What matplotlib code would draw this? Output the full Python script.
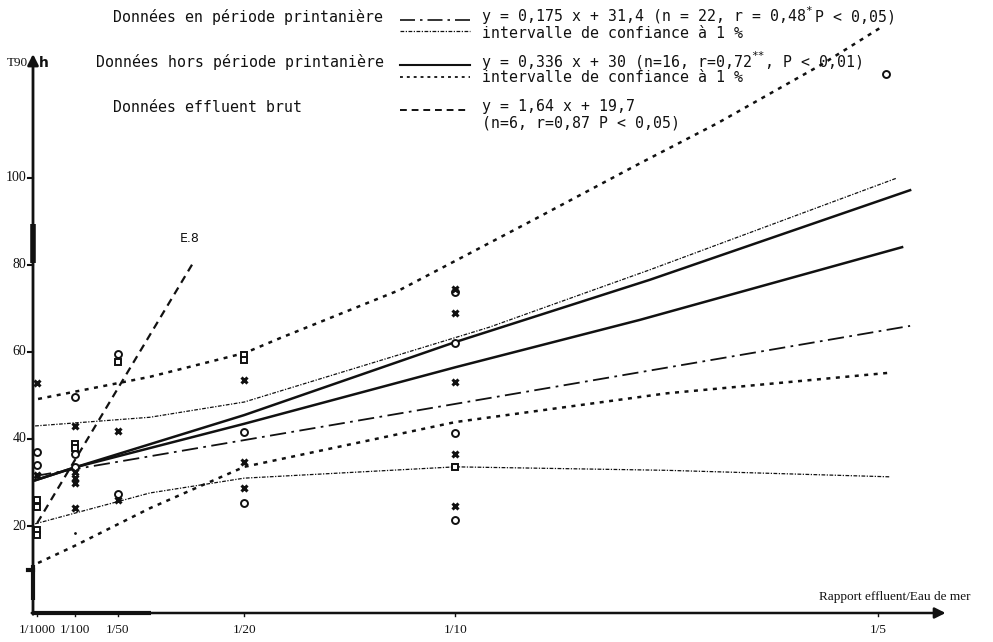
import matplotlib
matplotlib.use("Agg")
import matplotlib.pyplot as plt

# ratio effluent / sea water, in 1/1000 units
tick_pos = [1, 10, 20, 50, 100, 200]
tick_lab = ["1/1000", "1/100", "1/50", "1/20", "1/10", "1/5"]
ytick_pos = [20, 40, 60, 80, 100]

# observed T90 (h)
circ_x = [1, 1, 10, 10, 10, 20, 20, 50, 50, 100, 100, 100, 100, 202]
circ_y = [37, 34, 49.7, 36.6, 33.6, 59.5, 27.4, 41.6, 25.3, 73.8, 62, 41.4, 21.4, 124]
cross_x = [1, 1, 10, 10, 10, 10, 10, 20, 20, 50, 50, 50, 100, 100, 100, 100, 100]
cross_y = [52.9, 31.7, 43, 32.4, 31, 30, 24.1, 41.8, 26, 53.6, 34.7, 28.7, 74.5, 69, 53.1, 36.6, 24.6]
sq_x = [1, 1, 1, 1, 10, 10, 20, 50, 50, 100]
sq_y = [26, 24.4, 19, 18, 38.9, 37.9, 57.7, 59.3, 58.2, 33.6]

# spring regression (dash-dot) and its 1 % interval
spring_x = [0.5, 207.6]
spring_y = [31.5, 66]
spring_hi_x = [0.5, 27.7, 50, 108, 146, 204.5]
spring_hi_y = [43, 45, 48.5, 65.7, 78.9, 100]
spring_lo_x = [0.5, 27.7, 50, 100, 150, 203]
spring_lo_y = [20.5, 27.6, 31, 33.6, 32.8, 31.3]

# out of spring regression (solid) and second solid line
hors_x = [0.5, 10, 50, 100, 146, 207.6]
hors_y = [30.5, 33.5, 45.5, 62.3, 76.6, 97.2]
solid2_x = [0.5, 10, 50, 100, 143.7, 205.7]
solid2_y = [30.5, 33.5, 43.5, 56.5, 67.4, 84.1]

# out of spring 1 % interval (dotted)
hors_hi_x = [1.2, 27.7, 50.2, 58.5, 86.9, 118.3, 143.7, 162, 186.5, 200.5]
hors_hi_y = [49.2, 54.3, 59.8, 63.2, 74.3, 90.3, 103.4, 112.6, 126, 134.5]
hors_lo_x = [1.2, 10, 27.7, 50, 100, 150, 202.4]
hors_lo_y = [11.5, 15.5, 24.1, 33.6, 43.9, 50.5, 55.2]

# raw effluent E.8 (dashed)
brut_x = [1, 37.9]
brut_y = [20.7, 80.5]

W, H = 993, 642
fig = plt.figure(figsize=(W / 100, H / 100), dpi=100)
ax = fig.add_axes([0, 0, 1, 1])
ax.set_xlim(-33 / 4.225, 960 / 4.225)
ax.set_ylim(-29 / 4.35, 613 / 4.35)
ax.axis("off")

ink = "#111111"
mono = "DejaVu Sans Mono"
serif = "Liberation Serif"

ax.plot(spring_x, spring_y, color=ink, lw=1.3, dashes=(9, 3, 1.5, 3))
ax.plot(spring_hi_x, spring_hi_y, color=ink, lw=0.9, dashes=(3, 1.2, 1, 1.2))
ax.plot(spring_lo_x, spring_lo_y, color=ink, lw=0.9, dashes=(3, 1.2, 1, 1.2))
ax.plot(hors_x, hors_y, color=ink, lw=1.8)
ax.plot(solid2_x, solid2_y, color=ink, lw=1.8)
ax.plot(hors_hi_x, hors_hi_y, color=ink, lw=1.8, dashes=(1.6, 2.2))
ax.plot(hors_lo_x, hors_lo_y, color=ink, lw=1.8, dashes=(1.6, 2.2))
ax.plot(brut_x, brut_y, color=ink, lw=1.6, dashes=(3.5, 2.5))
ax.text(37.2, 84.5, "E.8", fontsize=9, family="DejaVu Sans", ha="center", va="bottom", color=ink)

ax.plot(circ_x, circ_y, "o", ms=5, mfc="white", mec=ink, mew=1.4, ls="none")
ax.plot(cross_x, cross_y, "x", ms=5, mec=ink, mew=2.2, ls="none")
ax.plot(sq_x, sq_y, "s", ms=4.5, mfc="white", mec=ink, mew=1.4, ls="none")
ax.plot([10], [18.5], ".", ms=2, color=ink)

# axes with arrows
ax.annotate("", xy=(0, 128.5), xytext=(0, -0.3),
            arrowprops=dict(arrowstyle="-|>", lw=2, color=ink, mutation_scale=16, shrinkA=0, shrinkB=0))
ax.annotate("", xy=(216, 0), xytext=(-0.3, 0),
            arrowprops=dict(arrowstyle="-|>", lw=1.8, color=ink, mutation_scale=16, shrinkA=0, shrinkB=0))
ax.plot([0, 0], [80.5, 89.5], color=ink, lw=4, solid_capstyle="butt")
ax.plot([0, 0], [3, 11], color=ink, lw=3, solid_capstyle="butt")
ax.plot([0, 28], [0, 0], color=ink, lw=3, solid_capstyle="butt")

for v in ytick_pos:
    ax.plot([-1.3, 0], [v, v], color=ink, lw=1.5)
    ax.text(-1.6, v, str(v), fontsize=10, family=serif, ha="right", va="center", color=ink)
ax.plot([-1.3, 0], [10, 10], color=ink, lw=3)

for p, lab in zip(tick_pos, tick_lab):
    ax.plot([p, p], [0, -0.8], color=ink, lw=1)
    ax.text(p, -3.8, lab, fontsize=9.5, family=serif, ha="center", va="center", color=ink)
ax.text(222, 3.6, "Rapport effluent/Eau de mer", fontsize=9.5, family=serif,
        ha="right", va="center", color=ink)

ax.text(-1.2, 126.5, "T90", fontsize=9.5, family=serif, ha="right", va="center", color=ink)
ax.text(1.5, 126.5, "h", fontsize=10, family="DejaVu Sans", weight="bold", ha="left", va="center", color=ink)


# legend block, positioned in pixels from the top left corner
def ftext(x, y, s, size=10.7):
    fig.text(x / W, 1 - y / H, s, family=mono, fontsize=size, va="center", color=ink)


def fline(x0, x1, y, **kw):
    fig.add_artist(plt.Line2D([x0 / W, x1 / W], [1 - y / H, 1 - y / H], color=ink, **kw))


cw = 0.602 * 10.7 * 100 / 72
ftext(113, 17, "Données en période printanière")
ftext(96, 62, "Données hors période printanière")
ftext(113, 107, "Données effluent brut")

fline(400, 470, 20, lw=1.2, dashes=(9, 3, 1.5, 3))
fline(400, 470, 31, lw=0.9, dashes=(3, 1.2, 1, 1.2))
fline(400, 470, 65, lw=1.5)
fline(400, 470, 77, lw=1.3, dashes=(1.6, 2.2))
fline(400, 470, 110, lw=1.4, dashes=(3.5, 2.5))

s1 = "y = 0,175 x + 31,4 (n = 22, r = 0,48"
ftext(482, 17, s1)
ftext(482 + cw * len(s1) + 1, 11, "*", size=8)
ftext(482 + cw * (len(s1) + 1.2), 17, "P < 0,05)")
ftext(482, 33, "intervalle de confiance à 1 %")

s3 = "y = 0,336 x + 30 (n=16, r=0,72"
ftext(482, 62, s3)
ftext(482 + cw * len(s3) + 1, 56, "**", size=8)
ftext(482 + cw * (len(s3) + 1.6), 62, ", P < 0,01)")
ftext(482, 78, "intervalle de confiance à 1 %")

ftext(482, 107, "y = 1,64 x + 19,7")
ftext(482, 123, "(n=6, r=0,87 P < 0,05)")

fig.savefig("out.png", dpi=100, facecolor="white")
